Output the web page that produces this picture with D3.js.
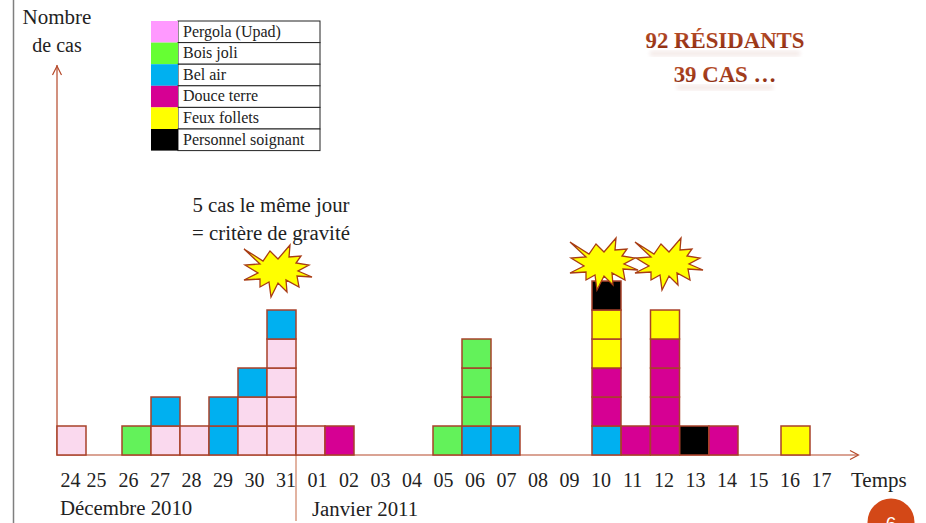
<!DOCTYPE html>
<html>
<head>
<meta charset="utf-8">
<script src="https://cdn.jsdelivr.net/npm/d3@7"></script>
<style>
  html, body { margin: 0; padding: 0; background: #fff; }
  svg { display: block; }
  text { font-family: "Liberation Serif", serif; fill: #222; }
</style>
</head>
<body>
<svg id="chart" width="926" height="523"></svg>
<script>
// Data
const days = ["24","25","26","27","28","29","30","31","01","02","03","04","05","06","07","08","09","10","11","12","13","14","15","16","17"];
const wards = ["Pergola (Upad)", "Bois joli", "Bel air", "Douce terre", "Feux follets", "Personnel soignant"];
const legendColors = ["#ff99ff", "#66ff33", "#00b0f0", "#d60093", "#ffff00", "#000000"];
const tileColors = ["#fad9ee", "#63f25a", "#00b0f0", "#d60093", "#ffff00", "#000000"];
// ward index of each case per day, from the bottom of the pile up
const cases = {
  "24": [0],
  "26": [1],
  "27": [0, 2],
  "28": [0],
  "29": [2, 2],
  "30": [0, 0, 2],
  "31": [0, 0, 0, 0, 2],
  "01": [0],
  "02": [3],
  "05": [1],
  "06": [2, 1, 1, 1],
  "07": [2],
  "10": [2, 3, 3, 4, 4, 5],
  "11": [3],
  "12": [3, 3, 3, 3, 4],
  "13": [5],
  "14": [3],
  "16": [4]
};
const starDays = ["31", "10", "12"];
const starShape = [[-34,-22],[-15,-10],[-8,-20],[0,-12],[12,-26],[11,-14],[23,-15],[18,-8],[31,-6],[20,0],[34,6],[19,5],[21,16],[8,9],[9,21],[0,12],[-7,26],[-9,11],[-18,16],[-18,8],[-34,9],[-20,2],[-33,-6],[-18,-7]];

const svg = d3.select("#chart");
const axisColor = "#b5492a";
const index = d3.range(days.length);
const baseY = 455;

// Left edge of each pile column, the slide columns are not evenly spaced
const tileX = d3.scaleLinear()
  .domain([0, 2, 9, 12, 14, 17, 21, 23])
  .range([57, 122, 325, 433, 491, 592, 709, 781]);
// Day labels
const labelX = d3.scaleLinear()
  .domain([0, 1, 2, 24])
  .range([70, 96, 128, 821]);
const y = d3.scaleLinear().domain([0, 13.45]).range([baseY, 65]);
const tileW = 29;
const tileH = y(0) - y(1);

// slide left edge
svg.append("line").attr("x1", 13.5).attr("x2", 13.5).attr("y1", 0).attr("y2", 523)
  .attr("stroke", "#7f7f7f").attr("stroke-width", 1.5);

// Month separator
svg.append("line").attr("x1", 296).attr("x2", 296).attr("y1", baseY).attr("y2", 521)
  .attr("stroke", "#d99a82").attr("stroke-width", 1.5);

// Axes lines
svg.append("path")
  .attr("d", d3.line()([[57, 65], [57, baseY], [858, baseY]]))
  .attr("fill", "none").attr("stroke", axisColor).attr("stroke-width", 1.2);
svg.append("path")
  .attr("d", d3.line()([[52.5, 75], [57, 66], [61.5, 75]]))
  .attr("fill", "none").attr("stroke", axisColor).attr("stroke-width", 1.2);
svg.append("path")
  .attr("d", d3.line()([[850, 450.5], [858.5, 455], [850, 459.5]]))
  .attr("fill", "none").attr("stroke", axisColor).attr("stroke-width", 1.2);

// Tick labels
const xAxis = d3.axisBottom(labelX)
  .tickValues(index)
  .tickSize(0)
  .tickPadding(0)
  .tickFormat(i => days[i]);
const axisG = svg.append("g").attr("transform", "translate(0,473)").call(xAxis);
axisG.select(".domain").remove();
axisG.selectAll("text").style("font-family", "'Liberation Serif', serif")
  .style("font-size", "20px").attr("fill", "#222");

// Piles of cases
const tiles = [];
days.forEach((day, i) => {
  (cases[day] || []).forEach((ward, level) => tiles.push({ i, ward, level }));
});
svg.append("g").selectAll("rect").data(tiles).join("rect")
  .attr("x", d => tileX(d.i))
  .attr("y", d => y(d.level + 1))
  .attr("width", tileW)
  .attr("height", tileH)
  .attr("fill", d => tileColors[d.ward])
  .attr("stroke", "#a8412a")
  .attr("stroke-width", 1.5);

// Stars
const starPos = { "31": [278, 271], "10": [604, 264], "12": [669, 264] };
svg.append("g").selectAll("polygon").data(starDays).join("polygon")
  .attr("points", starShape.map(p => p.join(",")).join(" "))
  .attr("transform", d => `translate(${starPos[d][0]},${starPos[d][1]})`)
  .attr("fill", "#ffff00")
  .attr("stroke", "#a83c14")
  .attr("stroke-width", 1.3)
  .attr("stroke-linejoin", "miter");

// Legend
const legend = svg.append("g").attr("transform", "translate(151,21)");
const rowH = 21.6;
const rows = legend.selectAll("g").data(wards).join("g")
  .attr("transform", (d, i) => `translate(0,${i * rowH})`);
rows.append("rect").attr("x", 27).attr("width", 142).attr("height", rowH)
  .attr("fill", "#fff").attr("stroke", "#222").attr("stroke-width", 1);
rows.append("rect").attr("width", 27).attr("height", rowH)
  .attr("fill", (d, i) => legendColors[i]);
rows.append("text").attr("x", 32).attr("y", 15.5)
  .style("font-size", "16px").text(d => d);

// Texts
function label(txt, x, yy, size, anchor) {
  return svg.append("text").attr("x", x).attr("y", yy)
    .attr("text-anchor", anchor || "middle")
    .style("font-size", size + "px").text(txt);
}
label("Nombre", 57, 24, 21);
label("de cas", 57, 52, 20);
label("5 cas le même jour", 271, 212, 20.8);
label("= critère de gravité", 271, 240, 20.8);
label("Décembre 2010", 60, 515, 20.8, "start");
label("Janvier 2011", 312, 516, 20.8, "start");
label("Temps", 851, 487, 21, "start");

// Title, the faded reflection is only a soft smear under each line
const defs = svg.append("defs");
const grad = defs.append("linearGradient").attr("id", "titleGrad").attr("x1", 0).attr("x2", 0).attr("y1", 0).attr("y2", 1);
grad.append("stop").attr("offset", "0%").attr("stop-color", "#c0532c");
grad.append("stop").attr("offset", "100%").attr("stop-color", "#85270c");
defs.append("filter").attr("id", "soft").append("feGaussianBlur").attr("stdDeviation", 2);
const titles = ["92 RÉSIDANTS", "39 CAS …"];
const titleY = [48, 82];
const titleW = [150, 96];
titles.forEach((txt, i) => {
  svg.append("rect").attr("x", 725 - titleW[i] / 2).attr("y", titleY[i] + 3)
    .attr("width", titleW[i]).attr("height", 5)
    .attr("fill", "#8f2c10").attr("opacity", 0.1).attr("filter", "url(#soft)");
  svg.append("text").attr("x", 725).attr("y", titleY[i]).attr("text-anchor", "middle")
    .style("font-size", "22.8px").style("font-weight", "bold")
    .style("fill", "url(#titleGrad)").text(txt);
});

// Page badge
svg.append("circle").attr("cx", 891).attr("cy", 522).attr("r", 23.5).attr("fill", "#d34817");
svg.append("text").attr("x", 891).attr("y", 530).attr("text-anchor", "middle")
  .style("font-size", "19px").style("fill", "#fff")
  .style("font-family", "'Liberation Sans', sans-serif").text("6");
</script>
</body>
</html>
